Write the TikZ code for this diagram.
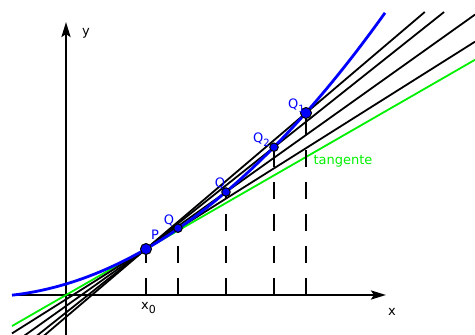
\documentclass[tikz,border=0pt]{standalone}
\usepackage{fontspec}
\setmainfont{DejaVu Sans}
\usetikzlibrary{arrows.meta}
\definecolor{tgreen}{RGB}{0,240,0}
\begin{document}
\begin{tikzpicture}[x=1pt,y=1pt,
  axis/.style={line width=2.6pt,-{Stealth[length=15pt,width=9pt,inset=3pt]}},
  secant/.style={line width=1.8pt,black},
  tangentline/.style={line width=1.8pt,tgreen},
  curve/.style={line width=2.8pt,blue},
  drop/.style={line width=2.6pt,dash pattern=on 17pt off 15pt},
  pt/.style={circle,fill=blue,draw=black,line width=1pt,inner sep=0pt,minimum size=#1},
  lbl/.style={font=\fontsize{13}{13}\selectfont,text=blue,inner sep=0pt},
  axlbl/.style={font=\fontsize{13}{13}\selectfont,inner sep=0pt}
]
\useasboundingbox (-66,-40) rectangle (409,295);
\begin{scope}
\clip (-66,-40) rectangle (409,295);
% axes
\coordinate (xs) at (-54,0);
\coordinate (xe) at (320,0);
\coordinate (ys) at (0,-45);
\coordinate (ye) at (0,273);
\draw[axis] (xs) -- (xe);
\draw[axis] (ys) -- (ye);
% points
\coordinate (P) at (80,46);
\coordinate (Q4) at (112,66.8);
\coordinate (Q3) at (160,103);
\coordinate (Q2) at (208,147.8);
\coordinate (Q1) at (240,182);
% tangent
\coordinate (t0) at (-54,-31.05);
\coordinate (t1) at (409,235.2);
\draw[tangentline] (t0) -- (t1);
% secants
\coordinate (s1a) at (-54,-67.9);  \coordinate (s1b) at (358.8,283);
\coordinate (s2a) at (-54,-60.5);  \coordinate (s2b) at (378.1,283);
\coordinate (s3a) at (-54,-49.5);  \coordinate (s3b) at (409,280.4);
\coordinate (s4a) at (-54,-38.4);  \coordinate (s4b) at (409,253.3);
\draw[secant] (s1a) -- (s1b);
\draw[secant] (s2a) -- (s2b);
\draw[secant] (s3a) -- (s3b);
\draw[secant] (s4a) -- (s4b);
% curve
\draw[curve] plot[domain=-54:319,samples=120,smooth] (\x,{11+0.30*\x+0.001719*\x*\x});
% drop lines
\coordinate (P0) at (80,0);
\coordinate (Q40) at (112,0);
\coordinate (Q30) at (160,0);
\coordinate (Q20) at (208,0);
\coordinate (Q10) at (240,0);
\draw[drop] (P0) -- (P);
\draw[drop] (Q40) -- (Q4);
\draw[drop] (Q30) -- (Q3);
\draw[drop] (Q20) -- (Q2);
\draw[drop] (Q10) -- (Q1);
\end{scope}
% point marks
\node[pt=11pt] (mP) at (P) {};
\node[pt=8.5pt] (mQ4) at (Q4) {};
\node[pt=8.5pt] (mQ3) at (Q3) {};
\node[pt=8.5pt] (mQ2) at (Q2) {};
\node[pt=11pt] (mQ1) at (Q1) {};
% labels
\node[axlbl] (ly) at (20,262) {y};
\node[axlbl] (lx) at (326,-17) {x};
\node[axlbl,anchor=base west] (lx0) at (75,-15) {x\raisebox{-4pt}{\fontsize{11}{11}\selectfont 0}};
\node[lbl] (lP) at (89,60) {P};
\node[lbl] (lQ4) at (103,74) {Q};
\node[lbl] (lQ3) at (154,111) {Q};
\node[lbl,anchor=base west] (lQ2) at (187,152) {Q\raisebox{-4pt}{\fontsize{10}{10}\selectfont 2}};
\node[lbl,anchor=base west] (lQ1) at (222,186) {Q\raisebox{-4pt}{\fontsize{10}{10}\selectfont 1}};
\node[lbl,text=tgreen] (lt) at (277,134) {tangente};
\end{tikzpicture}
\end{document}
